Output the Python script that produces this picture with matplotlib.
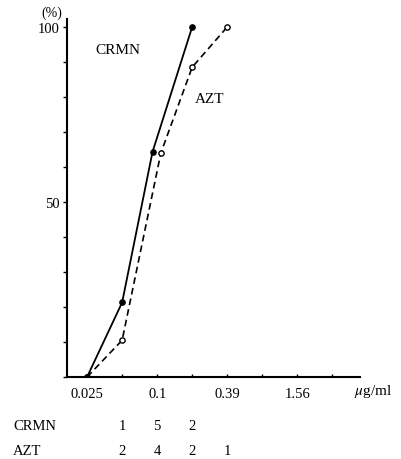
import matplotlib
matplotlib.use("Agg")
import matplotlib.pyplot as plt
import matplotlib.transforms as mtransforms

plt.rcParams["font.family"] = ["Liberation Serif", "DejaVu Serif"]
plt.rcParams["mathtext.fontset"] = "stix"

# two-fold dilution series (ug/ml), labelled every other step
conc_ticks = [0.0244, 0.0488, 0.0977, 0.195, 0.39, 0.78, 1.56, 3.125]
tick_labels = ["0.025", "", "0.1", "", "0.39", "", "1.56", ""]

# cumulative inhibition (%)
crmn_conc = [0.0244, 0.0488, 0.089, 0.195]
crmn_pct = [0, 21.3, 64.3, 100]
azt_conc = [0.0244, 0.0488, 0.105, 0.195, 0.39]
azt_pct = [0, 10.5, 64.0, 88.5, 100]

# number of strains per MIC
count_conc = [0.0488, 0.0977, 0.195, 0.39]
crmn_counts = [1, 5, 2]
azt_counts = [2, 4, 2, 1]

fig = plt.figure(figsize=(4.02, 4.60), dpi=100)
ax = fig.add_axes([0.1667, 0.1783, 0.7289, 0.7783])

ax.plot(azt_conc, azt_pct, color="black", lw=1.2, ls=(0, (4, 2.5)),
        marker="o", ms=3.8, mfc="white", mec="black", mew=1.0, zorder=3)
ax.plot(crmn_conc, crmn_pct, color="black", lw=1.3, ls="-",
        marker="o", ms=3.8, mfc="black", mec="black", zorder=4)

ax.set_xscale("log", base=2)
ax.set_xlim(0.0164, 5.4)
ax.set_ylim(0, 102.3)

ax.set_xticks(conc_ticks)
ax.set_xticklabels(tick_labels)
ax.minorticks_off()
ax.set_yticks(range(0, 101, 10))
ax.set_yticklabels(["" if v not in (50, 100) else str(v) for v in range(0, 101, 10)])

for side in ("top", "right"):
    ax.spines[side].set_visible(False)
for side in ("left", "bottom"):
    ax.spines[side].set_linewidth(1.5)

ax.tick_params(axis="x", direction="in", length=2.5, width=1.0, pad=7, labelsize=10.5)
ax.tick_params(axis="y", direction="out", length=3, width=1.0, pad=2, labelsize=10.5)

ax.text(0.0289, 93.5, "CRMN", fontsize=11, ha="left", va="center")
ax.text(0.205, 79.5, "AZT", fontsize=11, ha="left", va="center")

fig.text(52 / 402, 1 - 13 / 460, "(%)", fontsize=10, ha="center", va="center")
fig.text(354 / 402, 1 - 392 / 460, r"$\mu$g/ml", fontsize=11, ha="left", va="center")

# strain counts under each concentration
trans = mtransforms.blended_transform_factory(ax.transData, fig.transFigure)
fig.text(13 / 402, 1 - 427 / 460, "CRMN", fontsize=10.5, ha="left", va="center")
fig.text(13 / 402, 1 - 452 / 460, "AZT", fontsize=10.5, ha="left", va="center")
for c, n in zip(count_conc, crmn_counts):
    ax.text(c, 1 - 427 / 460, str(n), transform=trans, fontsize=10.5,
            ha="center", va="center", clip_on=False)
for c, n in zip(count_conc, azt_counts):
    ax.text(c, 1 - 452 / 460, str(n), transform=trans, fontsize=10.5,
            ha="center", va="center", clip_on=False)

fig.savefig("out.png", dpi=100)
